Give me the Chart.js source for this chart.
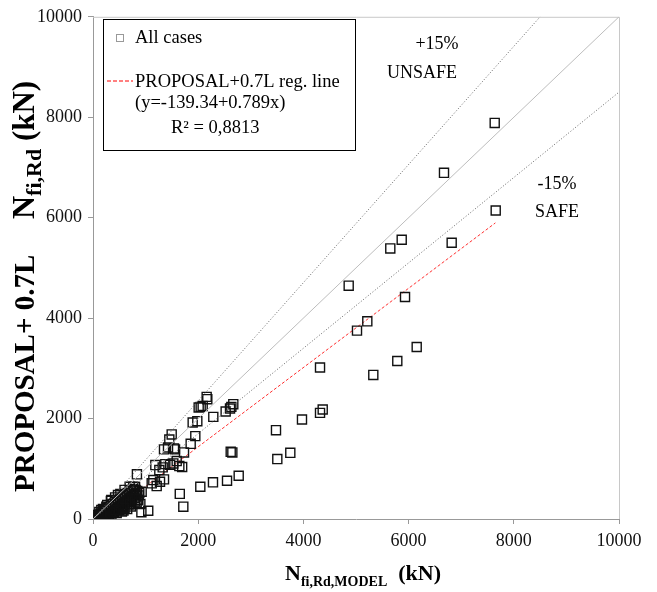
<!DOCTYPE html>
<html>
<head>
<meta charset="utf-8">
<script src="https://cdn.jsdelivr.net/npm/chart.js@4"></script>
<style>
  html, body { margin:0; padding:0; background:#fff; }
</style>
</head>
<body>
<canvas id="chart" width="657" height="592"></canvas>
<script>
/* ---------- data ---------- */
// all cases: x = N fi,Rd,MODEL, y = PROPOSAL + 0.7L (kN)
const casesX = [
  7637, 6673, 7656, 5869, 5652, 6819, 4861, 5932, 5215, 5019, 6154, 5785, 5329, 4316, 4367, 4316, 3973, 3479, 3751, 3504,
  2161, 2173, 2085, 2047, 2009, 2667, 2630, 2605, 2522, 2287, 1983, 1895, 1945, 1857, 1730, 1695, 2618, 2649, 2770, 2548,
  2281, 2040, 1650, 1717,
  1496, 1451, 1350, 1559, 1426, 1540, 1591, 1527, 1464, 1375, 1325, 1185, 1261, 1641, 835, 1147, 1350, 1274, 1116, 1211,
  766, 925, 1050, 920, 900, 697, 855, 728, 602, 507, 475, 348, 253, 158, 63, 0,
  20, 40, 60, 80, 100, 110, 130, 150, 160, 180, 200, 210, 230, 250, 260, 280, 300, 310, 330, 350,
  360, 380, 400, 410, 430, 450, 460, 480, 500, 510, 530, 550, 560, 580, 600, 610, 630, 650, 660, 680,
  700, 720, 740, 760, 780, 800, 820, 840, 860, 880, 720, 650, 550, 450, 350, 250, 150, 120, 190, 270,
  340, 420, 520, 600,
  30, 70, 90, 140, 170, 220, 240, 290, 320, 370, 390, 440, 470, 490, 540, 570, 620, 640, 670, 690,
  710, 750, 790, 810, 830, 870, 100, 200, 300, 400, 500, 600, 700, 800, 50, 120, 240, 320, 430, 580
];
const casesY = [
  7887, 6893, 6143, 5561, 5388, 5501, 4646, 4420, 3936, 3751, 3425, 3147, 2869, 3016, 2181, 2113, 1982, 1769, 1318, 1193,
  2432, 2386, 2252, 2233, 2221, 2286, 2233, 2200, 2141, 2034, 1948, 1922, 1650, 1497, 1326, 1035, 1338, 1326, 861, 762,
  730, 643, 500, 245,
  1684, 1584, 1386, 1386, 1425, 1405, 1153, 1107, 1080, 1093, 1028, 1074, 974, 1054, 890, 775, 789, 742, 710, 656,
  643, 543, 165, 135, 300, 643, 378, 378, 411, 312, 477, 378, 245, 179, 80, 20,
  10, 30, 20, 50, 40, 80, 60, 100, 70, 130, 110, 160, 140, 190, 120, 210, 170, 240, 200, 260,
  150, 290, 230, 320, 270, 340, 200, 370, 300, 390, 260, 410, 330, 450, 380, 300, 470, 420, 520, 350,
  480, 560, 410, 600, 500, 640, 450, 560, 380, 520, 250, 200, 150, 120, 80, 60, 30, 140, 200, 280,
  360, 430, 500, 580,
  5, 40, 15, 90, 60, 170, 90, 230, 110, 300, 190, 350, 230, 280, 380, 240, 430, 330, 480, 290,
  390, 520, 420, 580, 330, 470, 10, 60, 90, 140, 180, 220, 300, 350, 35, 45, 70, 130, 180, 170
];

// reference lines (end points)
const equalX   = [0, 10000];
const equalY   = [0, 10000];
const plus15X  = [0, 8500];
const plus15Y  = [0, 10000];
const minus15X = [0, 10000];
const minus15Y = [0, 8500];
const regX     = [177, 7650];
const regY     = [0, 5896];

const tickValues = [0, 2000, 4000, 6000, 8000, 10000];

const SERIF = '"Liberation Serif", "DejaVu Serif", serif';

const pts = (xs, ys) => xs.map((x, i) => ({ x, y: ys[i] }));

/* ---------- plugin: frame, legend box, notes, axis titles ---------- */
function drawPieces(ctx, pieces, x0, y0) {
  let x = x0;
  pieces.forEach(p => {
    ctx.font = p.font;
    ctx.fillText(p.text, x, y0 + (p.dy || 0));
    x += ctx.measureText(p.text).width + (p.gap || 0);
  });
}
function piecesWidth(ctx, pieces) {
  let w = 0;
  pieces.forEach(p => { ctx.font = p.font; w += ctx.measureText(p.text).width + (p.gap || 0); });
  return w;
}

const decorations = {
  id: 'decorations',
  beforeDatasetsDraw(chart) {
    const { ctx, chartArea: a } = chart;
    ctx.save();
    ctx.strokeStyle = '#c8c8c8';
    ctx.lineWidth = 1;
    ctx.beginPath();
    ctx.moveTo(a.left, a.top + 0.5);
    ctx.lineTo(a.right + 0.5, a.top + 0.5);
    ctx.lineTo(a.right + 0.5, a.bottom);
    ctx.stroke();
    ctx.restore();
  },
  afterDraw(chart) {
    const { ctx } = chart;
    ctx.save();

    /* legend box */
    ctx.fillStyle = '#fff';
    ctx.fillRect(103, 19, 252, 131);
    ctx.strokeStyle = '#000';
    ctx.lineWidth = 1;
    ctx.strokeRect(103.5, 19.5, 252, 131);

    ctx.strokeStyle = '#999';
    ctx.strokeRect(116.5, 34.5, 7, 7);

    ctx.strokeStyle = '#ff0000';
    ctx.lineWidth = 1;
    ctx.setLineDash([4, 2]);
    ctx.beginPath();
    ctx.moveTo(107, 81);
    ctx.lineTo(133, 81);
    ctx.stroke();
    ctx.setLineDash([]);

    ctx.fillStyle = '#000';
    ctx.textBaseline = 'alphabetic';
    ctx.textAlign = 'left';
    ctx.font = '18.5px ' + SERIF;
    ctx.fillText('All cases', 135, 43);
    ctx.fillText('PROPOSAL+0.7L reg. line', 135, 87);
    ctx.fillText('(y=-139.34+0.789x)', 135, 108);
    ctx.fillText('R\u00B2 = 0,8813', 171, 133);

    /* zone notes */
    ctx.font = '18px ' + SERIF;
    ctx.textAlign = 'center';
    ctx.textBaseline = 'middle';
    ctx.fillText('+15%', 437, 44);
    ctx.fillText('UNSAFE', 422, 73);
    ctx.fillText('-15%', 557, 184);
    ctx.fillText('SAFE', 557, 212);

    /* x axis title */
    ctx.textAlign = 'left';
    ctx.textBaseline = 'alphabetic';
    const xt = [
      { text: 'N', font: 'bold 22px ' + SERIF },
      { text: 'fi,Rd,MODEL', font: 'bold 14px ' + SERIF, dy: 6 },
      { text: '  (kN)', font: 'bold 22px ' + SERIF }
    ];
    drawPieces(ctx, xt, 363 - piecesWidth(ctx, xt) / 2, 580);

    /* y axis title */
    ctx.save();
    ctx.translate(34, 492);
    ctx.rotate(-Math.PI / 2);
    drawPieces(ctx, [{ text: 'PROPOSAL+ 0.7L', font: 'bold 29px ' + SERIF }], 0, 0);
    drawPieces(ctx, [
      { text: 'N', font: 'bold 32px ' + SERIF },
      { text: 'fi,Rd', font: 'bold 22px ' + SERIF, dy: 7 },
      { text: ' (kN)', font: 'bold 31px ' + SERIF }
    ], 273, 0);
    ctx.restore();

    ctx.restore();
  }
};

/* ---------- axes ---------- */
const axis = (fit) => ({
  type: 'linear',
  min: 0,
  max: 10000,
  afterBuildTicks: s => { s.ticks = tickValues.map(v => ({ value: v })); },
  afterFit: fit,
  ticks: {
    font: { family: SERIF, size: 18 },
    color: '#111',
    padding: 6,
    callback: v => String(v)
  },
  grid: { drawOnChartArea: false, drawTicks: true, tickLength: 5, color: '#999' },
  border: { display: true, color: '#999' }
});

new Chart(document.getElementById('chart'), {
  type: 'scatter',
  data: {
    datasets: [
      {
        label: 'y = x',
        type: 'line',
        data: pts(equalX, equalY),
        borderColor: '#bdbdbd',
        borderWidth: 1,
        pointRadius: 0,
        fill: false
      },
      {
        label: '+15%',
        type: 'line',
        data: pts(plus15X, plus15Y),
        borderColor: '#666',
        borderWidth: 1,
        borderDash: [1, 2],
        pointRadius: 0,
        fill: false
      },
      {
        label: '-15%',
        type: 'line',
        data: pts(minus15X, minus15Y),
        borderColor: '#666',
        borderWidth: 1,
        borderDash: [1, 2],
        pointRadius: 0,
        fill: false
      },
      {
        label: 'All cases',
        data: pts(casesX, casesY),
        pointStyle: 'rect',
        pointRadius: 6.4,
        pointBorderWidth: 1.4,
        pointBorderColor: '#111',
        pointBackgroundColor: 'rgba(0,0,0,0)'
      },
      {
        label: 'PROPOSAL+0.7L reg. line',
        type: 'line',
        data: pts(regX, regY),
        borderColor: '#ff3030',
        borderWidth: 1,
        borderDash: [3, 2],
        pointRadius: 0,
        fill: false
      }
    ]
  },
  options: {
    responsive: false,
    animation: false,
    devicePixelRatio: 1,
    layout: { padding: { top: 16, right: 38, left: 0, bottom: 0 } },
    plugins: { legend: { display: false }, tooltip: { enabled: false } },
    scales: {
      x: axis(s => { s.height = 73; }),
      y: axis(s => { s.width = 93; })
    }
  },
  plugins: [decorations]
});
</script>
</body>
</html>
